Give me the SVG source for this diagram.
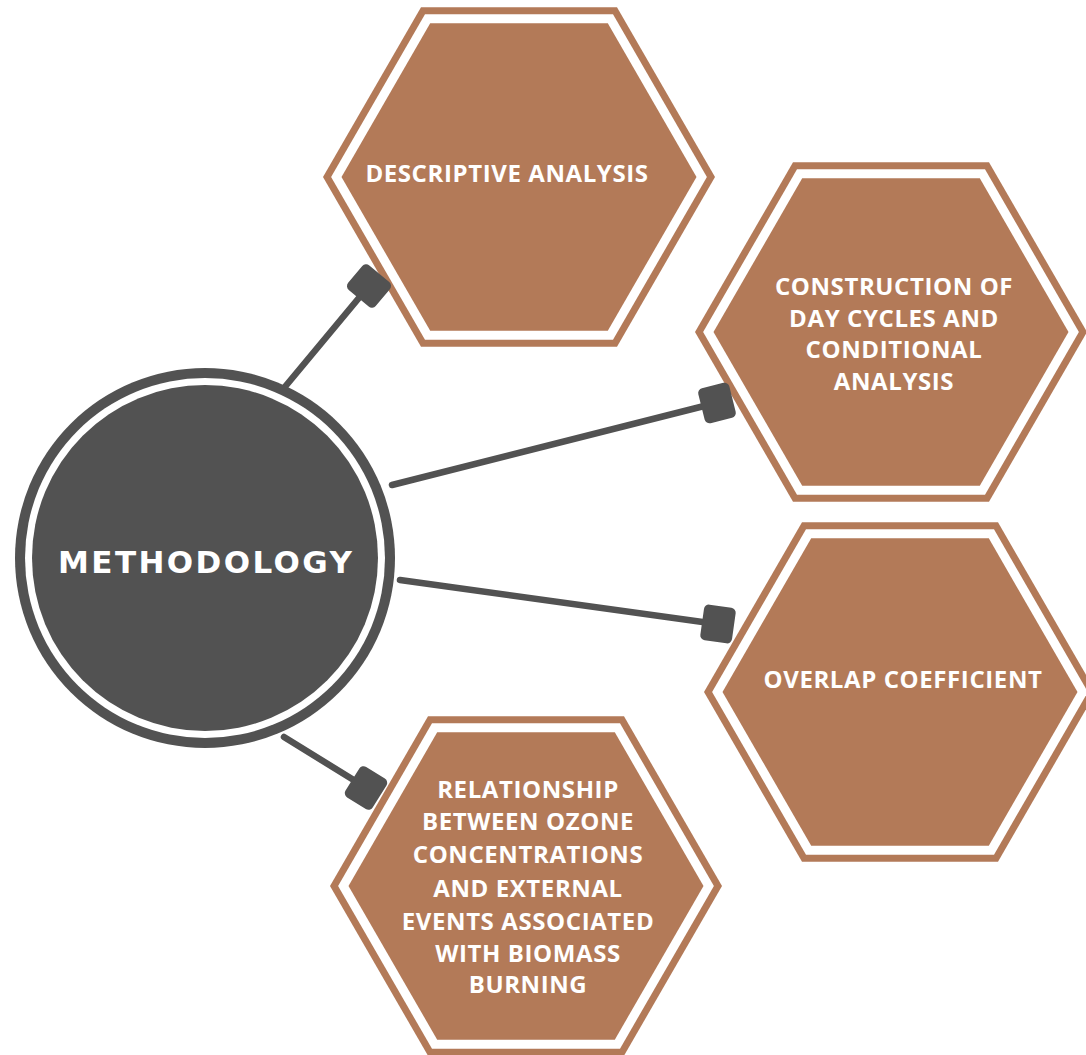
<svg xmlns="http://www.w3.org/2000/svg" xmlns:xlink="http://www.w3.org/1999/xlink" width="1086" height="1055" viewBox="0 0 1086 1055">
  <style>
    .hex-outer { fill: #B37A58; }
    .hex-gap { fill: #FFFFFF; }
    .hex-inner { fill: #B37A58; }
    .hex-label { font-family: "Open Sans", "Liberation Sans", sans-serif; font-weight: 700; font-size: 24px; letter-spacing: 0.6px; fill: #FFFFFF; text-anchor: middle; }
    .hub-label { font-family: "DejaVu Sans", "Liberation Sans", sans-serif; font-weight: 700; font-size: 31px; fill: #FFFFFF; text-anchor: middle; }
    .link { stroke: #525252; stroke-width: 6.5; stroke-linecap: round; fill: none; }
    .cap { fill: #525252; }
  </style>
  <defs>
    <!-- flat-topped hexagon with a white inner band, centred on 0,0 -->
    <g id="hex">
      <polygon class="hex-outer" points="-196,0 -98,-169.7 98,-169.7 196,0 98,169.7 -98,169.7"/>
      <polygon class="hex-gap" points="-187.9,0 -94,-162.7 94,-162.7 187.9,0 94,162.7 -94,162.7"/>
      <polygon class="hex-inner" points="-177.5,0 -88.8,-153.7 88.8,-153.7 177.5,0 88.8,153.7 -88.8,153.7"/>
    </g>
    <!-- square end cap of a connector -->
    <rect id="cap" class="cap" x="-16" y="-18" width="32" height="36" rx="5"/>
  </defs>

  <rect width="1086" height="1055" fill="#FFFFFF"/>

  <g id="node-descriptive" transform="translate(519,177)">
    <use xlink:href="#hex"/>
    <text class="hex-label" x="-12" y="5">DESCRIPTIVE ANALYSIS</text>
  </g>

  <g id="node-day-cycles" transform="translate(891,332)">
    <use xlink:href="#hex"/>
    <text class="hex-label" x="3" y="-37">CONSTRUCTION OF</text>
    <text class="hex-label" x="3" y="-5">DAY CYCLES AND</text>
    <text class="hex-label" x="3" y="26">CONDITIONAL</text>
    <text class="hex-label" x="3" y="58">ANALYSIS</text>
  </g>

  <g id="node-overlap" transform="translate(900,692)">
    <use xlink:href="#hex"/>
    <text class="hex-label" x="3" y="-4">OVERLAP COEFFICIENT</text>
  </g>

  <g id="node-biomass" transform="translate(526,886)">
    <use xlink:href="#hex"/>
    <text class="hex-label" x="2" y="-88">RELATIONSHIP</text>
    <text class="hex-label" x="2" y="-56">BETWEEN OZONE</text>
    <text class="hex-label" x="2" y="-23">CONCENTRATIONS</text>
    <text class="hex-label" x="2" y="11">AND EXTERNAL</text>
    <text class="hex-label" x="2" y="44">EVENTS ASSOCIATED</text>
    <text class="hex-label" x="2" y="76">WITH BIOMASS</text>
    <text class="hex-label" x="2" y="107">BURNING</text>
  </g>

  <g id="connectors">
    <line class="link" x1="284" y1="388" x2="368" y2="287"/>
    <use xlink:href="#cap" transform="translate(369,286) rotate(-50)"/>
    <line class="link" x1="392" y1="485" x2="716" y2="403"/>
    <use xlink:href="#cap" transform="translate(717,403) rotate(-14)"/>
    <line class="link" x1="400" y1="580" x2="717" y2="624"/>
    <use xlink:href="#cap" transform="translate(718,624) rotate(8)"/>
    <line class="link" x1="284" y1="737" x2="365" y2="787"/>
    <use xlink:href="#cap" transform="translate(366,788) rotate(32)"/>
  </g>

  <g id="node-methodology">
    <circle cx="205" cy="558" r="190" fill="#525252"/>
    <circle cx="205" cy="558" r="180" fill="#FFFFFF"/>
    <circle cx="205" cy="558" r="173" fill="#525252"/>
    <text class="hub-label" x="205" y="573" textLength="294" lengthAdjust="spacing">METHODOLOGY</text>
  </g>
</svg>
